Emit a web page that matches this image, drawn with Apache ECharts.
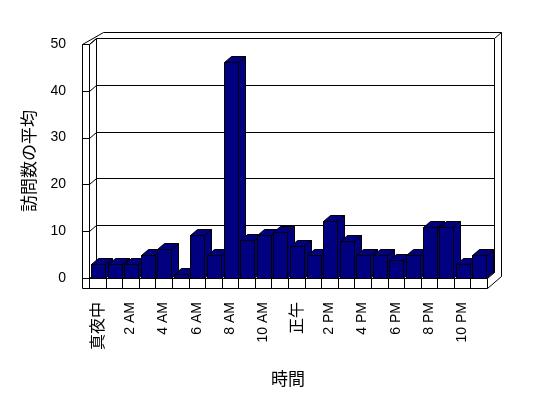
<!DOCTYPE html>
<html>
<head>
<meta charset="utf-8">
<script src="https://cdn.jsdelivr.net/npm/echarts@6/dist/echarts.min.js"></script>
<style>
html,body{margin:0;padding:0;background:#fff;}
#chart{width:548px;height:398px;}
</style>
</head>
<body>
<div id="chart"></div>
<script>
// ---- data ----
const categories = ['真夜中','1 AM','2 AM','3 AM','4 AM','5 AM','6 AM','7 AM','8 AM','9 AM','10 AM','11 AM',
                    '正午','1 PM','2 PM','3 PM','4 PM','5 PM','6 PM','7 PM','8 PM','9 PM','10 PM','11 PM'];
const visits = [2.9, 2.9, 2.9, 5.0, 6.1, 0.9, 9.1, 5.0, 46.1, 8.1, 9.1, 9.9,
                6.9, 5.0, 12.1, 8.0, 5.0, 5.0, 3.9, 5.0, 11.0, 11.0, 2.9, 5.0];
const yTicks = [0, 10, 20, 30, 40, 50];
const xTitle = '時間';
const yTitle = '訪問数の平均';

// ---- style constants ----
const DX = 7, DY = -6;           // depth offset
const WALL = 7, FLOOR = 10;      // wall / floor thickness
const BAR = '#000080';
const LINE = {stroke: '#000', lineWidth: 1, fill: null};
const r = v => Math.round(v) + 0.5;

const chart = echarts.init(document.getElementById('chart'), null, {renderer: 'canvas'});

const n = categories.length;
const barData = visits.map((v, i) => [i, v]);

function line(pts) {
  return {type: 'polyline', shape: {points: pts.map(p => [r(p[0]), r(p[1])])}, style: LINE, silent: true};
}

function frameItem(params, api) {
  const a = api.coord([0, 0]);
  const b = api.coord([n, yTicks[yTicks.length - 1]]);
  const X0 = a[0], Yb = a[1], X1 = b[0], Yt = b[1];
  const ch = [];
  ch.push({type: 'polygon', shape: {points: [[X0 + DX, Yt + DY], [X1 + DX, Yt + DY], [X1 + DX, Yb + DY], [X0 + DX, Yb + DY]]},
           style: {fill: '#fff'}, silent: true});
  yTicks.forEach(t => {
    const y = api.coord([0, t])[1];
    if (t > 0 && t < yTicks[yTicks.length - 1]) ch.push(line([[X0 + DX, y + DY], [X1 + DX, y + DY]]));
    ch.push(line([[X0 - WALL, y], [X0, y], [X0 + DX, y + DY]]));
  });
  ch.push(line([[X0 + DX, Yb + DY], [X0 + DX, Yt + DY], [X1 + DX, Yt + DY], [X1 + DX, Yb + DY], [X1, Yb]]));
  ch.push(line([[X0 + DX, Yb + DY], [X1 + DX, Yb + DY]]));
  ch.push(line([[X0 - WALL, Yt], [X0 + 2 * DX, Yt + 2 * DY], [X1 + 2 * DX, Yt + 2 * DY], [X1 + 2 * DX, Yb + FLOOR + 2 * DY], [X1, Yb + FLOOR]]));
  ch.push(line([[X1 + DX, Yt + DY], [X1 + 2 * DX, Yt + 2 * DY]]));
  ch.push(line([[X0, Yt], [X0 + DX, Yt + DY]]));
  ch.push(line([[X0 - WALL, Yb + FLOOR], [X0 - WALL, Yt], [X0, Yt], [X0, Yb]]));
  ch.push(line([[X0 - WALL, Yb], [X1, Yb], [X1, Yb + FLOOR], [X0 - WALL, Yb + FLOOR]]));
  for (let k = 0; k < n; k++) {
    const x = api.coord([k, 0])[0];
    ch.push(line([[x, Yb], [x, Yb + FLOOR]]));
  }
  return {type: 'group', children: ch};
}

function barItem(params, api) {
  const k = api.value(0), v = api.value(1);
  const p0 = api.coord([k + 0.12, v]);
  const p1 = api.coord([k + 0.96, 0]);
  const L = Math.round(p0[0]) + 0.5, T = Math.round(p0[1]) + 0.5;
  const R = Math.round(p1[0]) + 0.5, B = Math.round(p1[1]) + 0.5;
  const st = {fill: BAR, stroke: '#000', lineWidth: 1};
  return {type: 'group', children: [
    {type: 'polygon', shape: {points: [[R, T], [R + DX, T + DY], [R + DX, B + DY], [R, B]]}, style: st},
    {type: 'polygon', shape: {points: [[L, T], [L + DX, T + DY], [R + DX, T + DY], [R, T]]}, style: st},
    {type: 'polygon', shape: {points: [[L, T], [R, T], [R, B], [L, B]]}, style: st}
  ]};
}

const LATIN = '"Liberation Sans", Arial, sans-serif';
const CJK = '"Noto Sans CJK JP", sans-serif';

chart.setOption({
  animation: false,
  backgroundColor: '#fff',
  grid: {left: 89, right: 61, top: 44, bottom: 120},
  xAxis: [{
    type: 'category', data: categories, boundaryGap: true,
    axisLine: {show: false}, axisTick: {show: false}, splitLine: {show: false},
    axisLabel: {
      interval: 1, rotate: 90, margin: 24, color: '#000',
      fontFamily: LATIN, fontSize: 14,
      formatter: v => /[^\x00-\x7f]/.test(v) ? '{c|' + v + '}' : v,
      rich: {c: {fontFamily: CJK, fontSize: 16, color: '#000'}}
    },
    name: xTitle, nameLocation: 'middle', nameGap: 92,
    nameTextStyle: {fontFamily: CJK, fontSize: 17, color: '#000'}
  }, {
    type: 'value', min: 0, max: n, show: false
  }],
  yAxis: {
    type: 'value', min: 0, max: 50, interval: 10,
    axisLine: {show: false}, axisTick: {show: false}, splitLine: {show: false},
    axisLabel: {margin: 23, color: '#000', fontFamily: LATIN, fontSize: 14},
    name: yTitle, nameLocation: 'middle', nameGap: 52, nameRotate: 90,
    nameTextStyle: {fontFamily: CJK, fontSize: 17, color: '#000'}
  },
  series: [{
    type: 'custom', xAxisIndex: 1, yAxisIndex: 0, clip: false, z: 1,
    data: [[0, 0]], renderItem: frameItem, silent: true
  }, {
    type: 'custom', xAxisIndex: 1, yAxisIndex: 0, clip: false, z: 2,
    data: barData, encode: {x: 0, y: 1}, renderItem: barItem
  }]
});
</script>
</body>
</html>
